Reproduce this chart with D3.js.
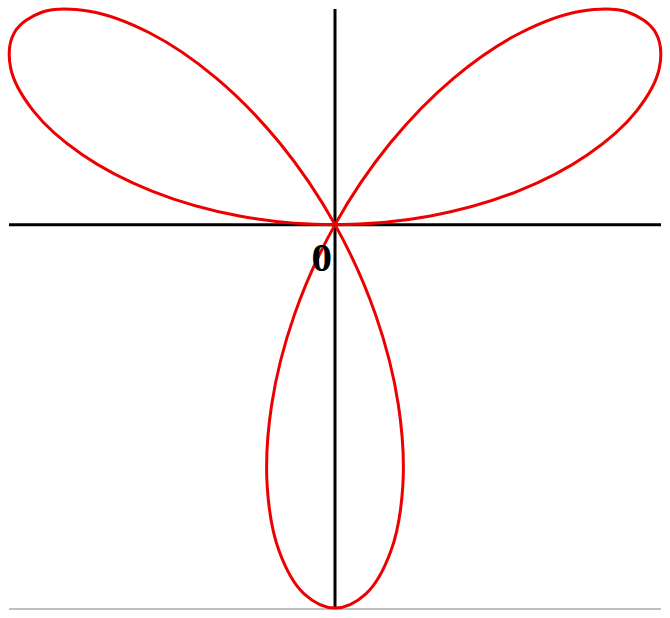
<!DOCTYPE html>
<html>
<head>
<meta charset="utf-8">
<script src="https://cdn.jsdelivr.net/npm/d3@7"></script>
<style>
  html, body { margin: 0; padding: 0; background: #fff; }
  svg { display: block; }
</style>
</head>
<body>
<div id="chart"></div>
<script>
// Polar samples of the three-leaf rose, read every 5 degrees (theta in degrees, radius r)
const thetaDeg = [0,5,10,15,20,25,30,35,40,45,50,55,60,65,70,75,80,85,90,95,100,105,110,115,120,125,130,135,140,145,150,155,160,165,170,175];
const radius = [0,0.259,0.5,0.707,0.866,0.966,1,0.966,0.866,0.707,0.5,0.259,0,-0.259,-0.5,-0.707,-0.866,-0.966,-1,-0.966,-0.866,-0.707,-0.5,-0.259,0,0.259,0.5,0.707,0.866,0.966,1,0.966,0.866,0.707,0.5,0.259];
const originLabel = ["0"];
const xDomain = [-0.88, 0.88];
const yDomain = [-1, 0.5625];

const W = 670, H = 618;
const svg = d3.select("#chart").append("svg").attr("width", W).attr("height", H);

const x = d3.scaleLinear().domain(xDomain).range([9, 661]);
const y = d3.scaleLinear().domain(yDomain).range([608, 9]);

const pts = thetaDeg.map((t, i) => {
  const a = t * Math.PI / 180;
  return [radius[i] * Math.cos(a), radius[i] * Math.sin(a)];
});

// bottom gray line
svg.append("line")
  .attr("x1", x(xDomain[0])).attr("x2", x(xDomain[1]))
  .attr("y1", y(yDomain[0]) + 1).attr("y2", y(yDomain[0]) + 1)
  .attr("stroke", "#aaaaaa").attr("stroke-width", 1.5);

// axes through origin
svg.append("line")
  .attr("x1", x(xDomain[0])).attr("x2", x(xDomain[1]))
  .attr("y1", y(0)).attr("y2", y(0))
  .attr("stroke", "#000").attr("stroke-width", 3);
svg.append("line")
  .attr("x1", x(0)).attr("x2", x(0))
  .attr("y1", y(yDomain[1])).attr("y2", y(yDomain[0]))
  .attr("stroke", "#000").attr("stroke-width", 3);

// rose curve
const line = d3.line()
  .x(d => x(d[0])).y(d => y(d[1]))
  .curve(d3.curveCatmullRomClosed.alpha(0.5));
svg.append("path")
  .attr("d", line(pts))
  .attr("fill", "none")
  .attr("stroke", "#ee0000")
  .attr("stroke-width", 3);

// origin label
svg.append("text")
  .attr("x", x(0) - 3).attr("y", y(0) + 46)
  .attr("text-anchor", "end")
  .attr("font-family", "Liberation Serif, Times New Roman, serif")
  .attr("font-weight", "bold")
  .attr("font-size", 41)
  .text(originLabel[0]);
</script>
</body>
</html>
